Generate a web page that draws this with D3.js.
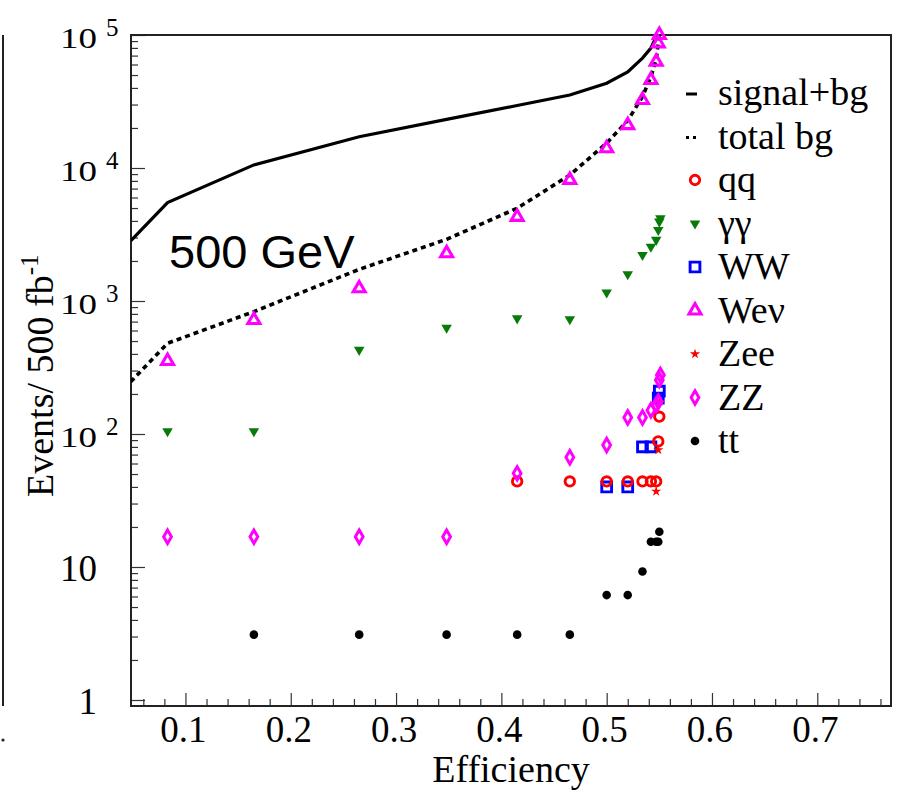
<!DOCTYPE html>
<html>
<head>
<meta charset="utf-8">
<script src="https://cdn.jsdelivr.net/npm/d3@7"></script>
<style>
  body { margin: 0; background: #fff; }
  svg { display: block; }
</style>
</head>
<body>
<svg id="chart" width="900" height="792"></svg>
<script>
const SVG_WIDTH = 900;
const SVG_HEIGHT = 792;
const FRAME = { left: 131, right: 891, top: 35, bottom: 706 };
const SERIF = "'Liberation Serif', 'Times New Roman', serif";
const SANS = "'Liberation Sans', Arial, sans-serif";

// efficiency of each cut step (x positions shared by all series)
const effCuts = [0.048, 0.083, 0.165, 0.265, 0.348, 0.415, 0.465, 0.500, 0.520, 0.534, 0.542, 0.547, 0.549, 0.550, 0.551];

// events / 500 fb^-1 at each cut (null = not shown)
const signalBg = [2830, 5490, 10550, 17180, 23200, 29500, 35400, 43400, 52700, 67100, 79800, 96600, 115000, null, null];
const totalBg  = [247, 481, 832, 1730, 2910, 4980, 8850, 15400, 22700, 34400, 48500, 64900, 87000, 104000, null];
const qq   = [null, null, null, null, null, 44, 44, 44, 44, 44, 44, 44, 88, 135, null];
const gg   = [null, 105, 105, 429, 630, 740, 730, 1160, 1590, 2220, 2560, 2880, 3420, 3950, 4190];
const ww   = [null, null, null, null, null, null, null, 40, 40, 80, 80, null, 186, 210, null];
const wenu = [null, 354, 719, 1245, 2285, 4290, 8130, 14060, 21000, 32400, 45900, 63000, 86500, 100000, null];
const zee  = [null, null, null, null, null, null, null, null, null, null, null, 37, 76, 175, null];
const zz   = [null, 16.9, 16.9, 16.9, 16.9, 50.6, 66.8, 82.6, 133, 133, 151, 165, 175, 255, 278];
const tt   = [null, null, 3.1, 3.1, 3.1, 3.1, 3.1, 6.15, 6.15, 9.25, 15.5, 15.5, 15.5, 18.4, null];

const xTicks = [0.1, 0.2, 0.3, 0.4, 0.5, 0.6, 0.7];
const xTickLabels = ["0.1", "0.2", "0.3", "0.4", "0.5", "0.6", "0.7"];
const yTicks = [1, 10, 100, 1000, 10000, 100000];
const yTickBase = ["1", "10", "10", "10", "10", "10"];
const yTickExp = ["", "", "2", "3", "4", "5"];

const legendNames = ["signal+bg", "total bg", "qq", "\u03B3\u03B3", "WW", "We\u03BD", "Zee", "ZZ", "tt"];

const x = d3.scaleLinear().domain([0.0483, 0.77]).range([FRAME.left, FRAME.right]);
const y = d3.scaleLog().domain([Math.pow(10, -6 / 133), 1e5]).range([FRAME.bottom, FRAME.top]);

const svg = d3.select("#chart");

// edge of the neighbouring panel
svg.append("line")
  .attr("x1", 3).attr("x2", 3).attr("y1", FRAME.top).attr("y2", FRAME.bottom)
  .attr("stroke", "#222").attr("stroke-width", 2);
svg.append("circle").attr("cx", 3).attr("cy", 740).attr("r", 1.6).attr("fill", "#222");

svg.append("clipPath").attr("id", "plot-clip")
  .append("rect")
  .attr("x", FRAME.left).attr("y", FRAME.top)
  .attr("width", FRAME.right - FRAME.left).attr("height", FRAME.bottom - FRAME.top);

// ticks (pointing inward)
const minorX = d3.range(0.06, 0.77, 0.02).filter(v => Math.abs(v * 10 - Math.round(v * 10)) > 1e-6);
svg.append("g").attr("transform", `translate(0, ${FRAME.bottom})`)
  .call(d3.axisTop(x).tickValues(xTicks).tickSize(13).tickFormat(""));
svg.append("g").attr("transform", `translate(0, ${FRAME.bottom})`)
  .call(d3.axisTop(x).tickValues(minorX).tickSize(7).tickFormat(""));

const minorY = [];
for (let dec = 0.1; dec < 1e5; dec *= 10) {
  for (let k = 2; k <= 9; k++) {
    const v = dec * k;
    if (v >= y.domain()[0] && v < 1e5) minorY.push(v);
  }
}
svg.append("g").attr("transform", `translate(${FRAME.left}, 0)`)
  .call(d3.axisRight(y).tickValues(yTicks).tickSize(14).tickFormat(""));
svg.append("g").attr("transform", `translate(${FRAME.left}, 0)`)
  .call(d3.axisRight(y).tickValues(minorY).tickSize(7).tickFormat(""));

svg.selectAll(".domain").remove();
svg.selectAll(".tick line").attr("stroke", "#333").attr("stroke-width", 1.2);

// frame
svg.append("rect")
  .attr("x", FRAME.left).attr("y", FRAME.top)
  .attr("width", FRAME.right - FRAME.left).attr("height", FRAME.bottom - FRAME.top)
  .attr("fill", "none").attr("stroke", "#222").attr("stroke-width", 2);

// x tick labels
svg.append("g").selectAll("text")
  .data(xTicks)
  .join("text")
  .attr("x", d => x(d) - 2)
  .attr("y", 742)
  .attr("text-anchor", "middle")
  .style("font-family", SERIF)
  .style("font-size", "37px")
  .text((d, i) => xTickLabels[i]);

// y tick labels, "10" with exponent
const yLab = svg.append("g").selectAll("g")
  .data(yTicks)
  .join("g")
  .attr("transform", (d, i) => `translate(97, ${y(d) + (yTickExp[i] ? 13 : 14)})`);
yLab.append("text")
  .attr("text-anchor", "end")
  .attr("transform", (d, i) => yTickExp[i] ? "scale(1, 0.8)" : null)
  .style("font-family", SERIF)
  .style("font-size", "37px")
  .text((d, i) => yTickBase[i]);
yLab.append("text")
  .attr("x", 9)
  .attr("y", -12)
  .style("font-family", SERIF)
  .style("font-size", "25px")
  .text((d, i) => yTickExp[i]);

// axis titles
svg.append("text")
  .attr("x", 511).attr("y", 782)
  .attr("text-anchor", "middle")
  .style("font-family", SERIF)
  .style("font-size", "38px")
  .text("Efficiency");

const yTitle = svg.append("text")
  .attr("transform", "translate(53, 497) rotate(-90)")
  .style("font-family", SERIF)
  .style("font-size", "38px");
yTitle.append("tspan").text("Events/ 500 fb");
yTitle.append("tspan").attr("dy", -15).style("font-size", "25px").text("-1");

svg.append("text")
  .attr("x", 169).attr("y", 268)
  .style("font-family", SANS)
  .style("font-size", "47px")
  .text("500 GeV");

// curves
const rows = arr => effCuts.map((e, i) => ({ e, v: arr[i] })).filter(d => d.v != null);
const line = d3.line().x(d => x(d.e)).y(d => y(d.v));
const curves = svg.append("g").attr("clip-path", "url(#plot-clip)");
curves.append("path")
  .attr("d", line(rows(signalBg)))
  .attr("fill", "none").attr("stroke", "#000").attr("stroke-width", 3.2);
curves.append("path")
  .attr("d", line(rows(totalBg)))
  .attr("fill", "none").attr("stroke", "#000").attr("stroke-width", 3.6)
  .attr("stroke-dasharray", "5,4");

// marker styles
const MAGENTA = "#ff00ff";
const GREEN = "#087a08";
const markerStyles = {
  qq:   { type: d3.symbolCircle,   size: 70, fill: "none", stroke: "#ff0000", sw: 2.9, rot: 0 },
  gg:   { type: d3.symbolTriangle, size: 48, fill: GREEN,  stroke: "none",    sw: 0,   rot: 180 },
  ww:   { type: d3.symbolSquare,   size: 96, fill: "none", stroke: "#0000ff", sw: 2.9, rot: 0 },
  wenu: { type: d3.symbolTriangle, size: 62, fill: "none", stroke: MAGENTA,   sw: 3.1, rot: 0 },
  zee:  { type: d3.symbolStar,     size: 32, fill: "#ff0000", stroke: "none", sw: 0,   rot: 0 },
  zz:   { type: d3.symbolDiamond,  size: 52, fill: "none", stroke: MAGENTA,   sw: 3,   rot: 0 },
  tt:   { type: d3.symbolCircle,   size: 58, fill: "#000", stroke: "none",    sw: 0,   rot: 0 }
};

function drawMarkers(g, pts, st) {
  g.selectAll("path")
    .data(pts)
    .join("path")
    .attr("d", d3.symbol().type(st.type).size(st.size))
    .attr("transform", d => `translate(${d.px}, ${d.py}) rotate(${st.rot})`)
    .attr("fill", st.fill)
    .attr("stroke", st.stroke)
    .attr("stroke-width", st.sw);
}

const seriesOrder = [["wenu", wenu], ["gg", gg], ["ww", ww], ["qq", qq], ["zee", zee], ["zz", zz], ["tt", tt]];
seriesOrder.forEach(([key, arr]) => {
  const pts = rows(arr).map(d => ({ px: x(d.e), py: y(d.v) }));
  drawMarkers(svg.append("g"), pts, markerStyles[key]);
});

// legend
const LEG_X = 695;
const legendKeys = ["signal", "bg", "qq", "gg", "ww", "wenu", "zee", "zz", "tt"];
const legend = svg.append("g");
legendKeys.forEach((key, i) => {
  const base = 105 + i * 43.5;
  if (key === "signal") {
    legend.append("line")
      .attr("x1", LEG_X - 9).attr("x2", LEG_X + 2)
      .attr("y1", base - 11).attr("y2", base - 11)
      .attr("stroke", "#000").attr("stroke-width", 3);
  } else if (key === "bg") {
    legend.append("line")
      .attr("x1", LEG_X - 9).attr("x2", LEG_X + 1)
      .attr("y1", base - 11).attr("y2", base - 11)
      .attr("stroke", "#000").attr("stroke-width", 3)
      .attr("stroke-dasharray", "3,4");
  } else {
    drawMarkers(legend.append("g"), [{ px: LEG_X, py: base - 12 }], markerStyles[key]);
  }
  legend.append("text")
    .attr("x", 718).attr("y", base)
    .style("font-family", SERIF)
    .style("font-size", "38px")
    .text(legendNames[i]);
});
</script>
</body>
</html>
